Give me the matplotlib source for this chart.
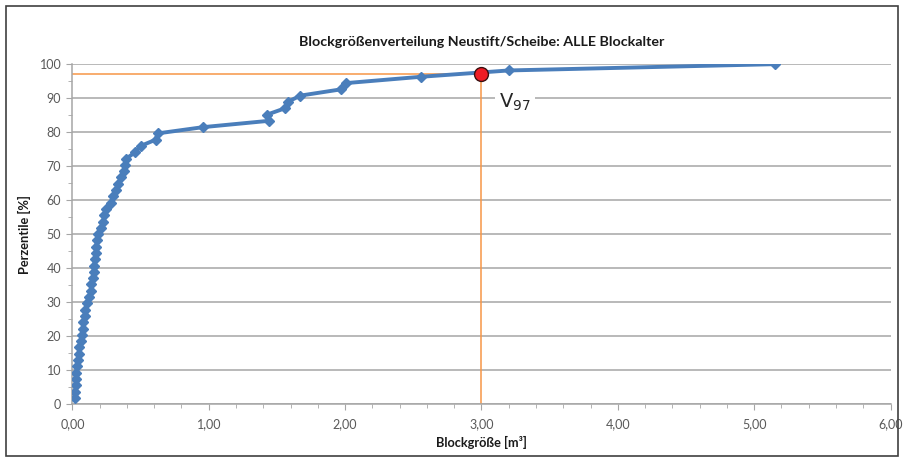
import matplotlib
matplotlib.use("Agg")
import matplotlib.pyplot as plt
from matplotlib.ticker import MultipleLocator, FuncFormatter
from matplotlib.patches import Rectangle

# --- data ---
blocksize = [0.02, 0.02, 0.025, 0.03, 0.03, 0.035, 0.04, 0.045, 0.05, 0.06,
             0.07, 0.075, 0.08, 0.09, 0.095, 0.11, 0.125, 0.135, 0.14, 0.15,
             0.155, 0.16, 0.165, 0.17, 0.175, 0.18, 0.19, 0.21, 0.225, 0.235,
             0.25, 0.28, 0.30, 0.32, 0.335, 0.36, 0.38, 0.385, 0.395, 0.46,
             0.50, 0.61, 0.625, 0.96, 1.44, 1.43, 1.56, 1.58, 1.67, 1.97,
             2.01, 2.56, 3.20, 5.15]
percentile = [1.85, 3.70, 5.56, 7.41, 9.26, 11.11, 12.96, 14.81, 16.67, 18.52,
              20.37, 22.22, 24.07, 25.93, 27.78, 29.63, 31.48, 33.33, 35.19, 37.04,
              38.89, 40.74, 42.59, 44.44, 46.30, 48.15, 50.00, 51.85, 53.70, 55.56,
              57.41, 59.26, 61.11, 62.96, 64.81, 66.67, 68.52, 70.37, 72.22, 74.07,
              75.93, 77.78, 79.63, 81.48, 83.33, 85.19, 87.04, 88.89, 90.74, 92.59,
              94.44, 96.30, 98.15, 100.00]
v97_x = 3.0
v97_y = 97.0

title = "Blockgrößenverteilung Neustift/Scheibe: ALLE Blockalter"
xlabel = "Blockgröße [m³]"
ylabel = "Perzentile [%]"

fam = ["Lato", "DejaVu Sans"]
plt.rcParams['font.family'] = fam

fig = plt.figure(figsize=(9.05, 4.65), dpi=100)
ax = fig.add_axes([0.080, 0.131, 0.904, 0.731])

ax.set_xlim(0, 6)
ax.set_ylim(0, 100)

# grid
ax.yaxis.set_major_locator(MultipleLocator(10))
ax.yaxis.set_minor_locator(MultipleLocator(5))
ax.xaxis.set_major_locator(MultipleLocator(1))
ax.xaxis.set_minor_locator(MultipleLocator(0.2))
ax.grid(axis='y', which='major', color='#a6a6a6', linewidth=1.1, zorder=0)
ax.set_axisbelow(True)

for s in ['top', 'right']:
    ax.spines[s].set_visible(False)
for s in ['left', 'bottom']:
    ax.spines[s].set_color('#a6a6a6')
    ax.spines[s].set_linewidth(1.1)

ax.tick_params(axis='both', which='major', direction='out', length=4,
               color='#a6a6a6', labelcolor='#595959', labelsize=9)
ax.tick_params(axis='both', which='minor', direction='out', length=3,
               color='#a6a6a6')
ax.xaxis.set_major_formatter(FuncFormatter(lambda v, p: f"{v:.2f}".replace('.', ',')))
ax.tick_params(axis='x', pad=6)
ax.tick_params(axis='y', pad=4)

# orange guide lines
ax.plot([0, v97_x], [v97_y, v97_y], color='#f79646', linewidth=1.1, zorder=2)
ax.plot([v97_x, v97_x], [0, v97_y], color='#f79646', linewidth=1.1, zorder=2)

# main curve
ax.plot(blocksize, percentile, color='#4a7ebb', linewidth=2.8, marker='D',
        markersize=5.5, markerfacecolor='#4a7ebb', markeredgecolor='#4a7ebb',
        zorder=3)

# V97 point
ax.plot([v97_x], [v97_y], marker='o', markersize=10, markerfacecolor='#ee1c25',
        markeredgecolor='#3a1010', markeredgewidth=1.0, zorder=5)

ax.text(3.13, 88.7, "V$_{97}$", fontsize=14, color='#262626', va='center',
        ha='left', family=["DejaVu Sans"],
        bbox=dict(facecolor='white', edgecolor='none', pad=3), zorder=4)

ax.set_title(title, fontsize=10.3, fontweight='bold', color='#1a1a1a', pad=13)
ax.set_xlabel(xlabel, fontsize=9.2, fontweight='bold', color='#1a1a1a', labelpad=4)
ax.set_ylabel(ylabel, fontsize=9.2, fontweight='bold', color='#1a1a1a', labelpad=6)

# chart border
fig.patches.append(Rectangle((6 / 905, 9 / 465), 892 / 905, 450 / 465,
                             transform=fig.transFigure, fill=False,
                             edgecolor='#404040', linewidth=1.2))

fig.savefig("out.png", dpi=100)
